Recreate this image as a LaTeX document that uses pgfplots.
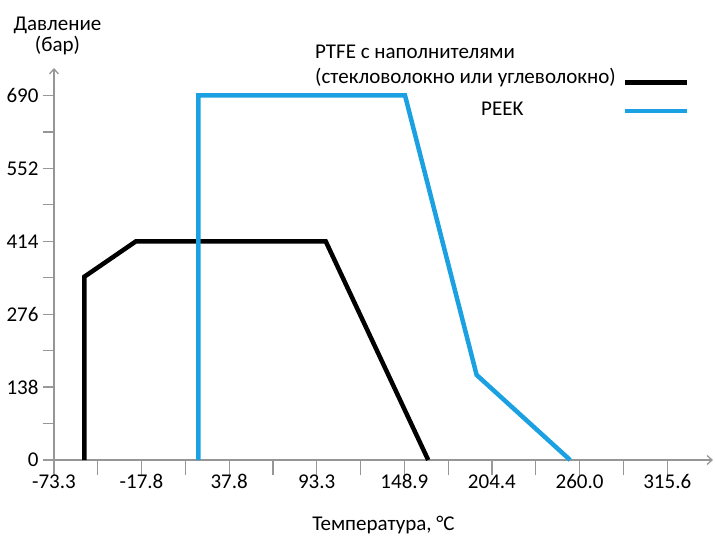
\documentclass[border=0pt]{standalone}
\usepackage{pgfplots}
\pgfplotsset{compat=1.18}
\usepackage{fontspec}
\setmainfont{Carlito}
\usetikzlibrary{arrows.meta}
\definecolor{peekblue}{RGB}{27,161,226}
\definecolor{axisgray}{RGB}{150,150,150}
\begin{document}
\begin{tikzpicture}[font=\fontsize{21bp}{25bp}\selectfont]
\useasboundingbox (0,0) rectangle (715bp,540bp);
\begin{axis}[
  at={(54bp,80bp)}, anchor=south west,
  scale only axis, width=659bp, height=392bp,
  xmin=-73.3, xmax=344.6, ymin=0, ymax=742,
  axis x line=bottom, axis y line=left,
  axis line style={axisgray, line width=1.3bp, -{Straight Barb[length=5bp,width=9bp]}},
  xtick={-73.3,-17.8,37.8,93.3,148.9,204.4,260.0,315.6},
  xticklabels={-73.3,-17.8,37.8,93.3,148.9,204.4,260.0,315.6},
  % tick marks are drawn as minor ticks, shifted a hair off the labelled positions
  minor xtick={-45.55,-17.81,10,37.79,65.55,93.29,121.1,148.89,176.65,204.39,232.2,259.99,287.8,315.59},
  ytick={0,138,276,414,552,690},
  minor ytick={0.05,69,138.05,207,276.05,345,414.05,483,552.05,621,690.05},
  tick align=outside,
  major tick length=11bp, minor tick length=11bp,
  xtick style={/pgfplots/major tick length=15bp, /pgfplots/minor tick length=15bp},
  tick style={axisgray, line width=1.3bp, solid},
  major tick style={draw=gray!80, line width=1.3bp},
  yticklabel style={xshift=-1bp},
  /pgf/number format/assume math mode=true,
  clip=false,
]
% PTFE с наполнителями
\addplot[black, line width=4.5bp, line join=miter] coordinates {
  (-54,0) (-54,347) (-21.3,414) (99,414) (164,0)};
% PEEK
\addplot[peekblue, line width=4.5bp, line join=miter] coordinates {
  (18.2,0) (18.2,690) (149.3,690) (194.7,161) (254,0)};

% legend
\draw[black, line width=4.5bp] (axis description cs:0.8665,0.9625) -- (axis description cs:0.9605,0.9625);
\draw[peekblue, line width=4.5bp] (axis description cs:0.8665,0.890) -- (axis description cs:0.9605,0.890);
\node[anchor=base west, inner sep=0pt] at (axis description cs:0.396,1.0247) {PTFE с наполнителями};
\node[anchor=base west, inner sep=0pt] at (axis description cs:0.396,0.961) {(стекловолокно или углеволокно)};
\node[anchor=base west, inner sep=0pt] at (axis description cs:0.648,0.878) {PEEK};

% axis titles
\node[anchor=base, inner sep=0pt] at (axis description cs:0.0053,1.095) {Давление};
\node[anchor=base, inner sep=0pt] at (axis description cs:0.0053,1.041) {(бар)};
\node[anchor=base, inner sep=0pt] at (axis description cs:0.5,-0.179) {Температура, °C};
\end{axis}
\end{tikzpicture}
\end{document}
